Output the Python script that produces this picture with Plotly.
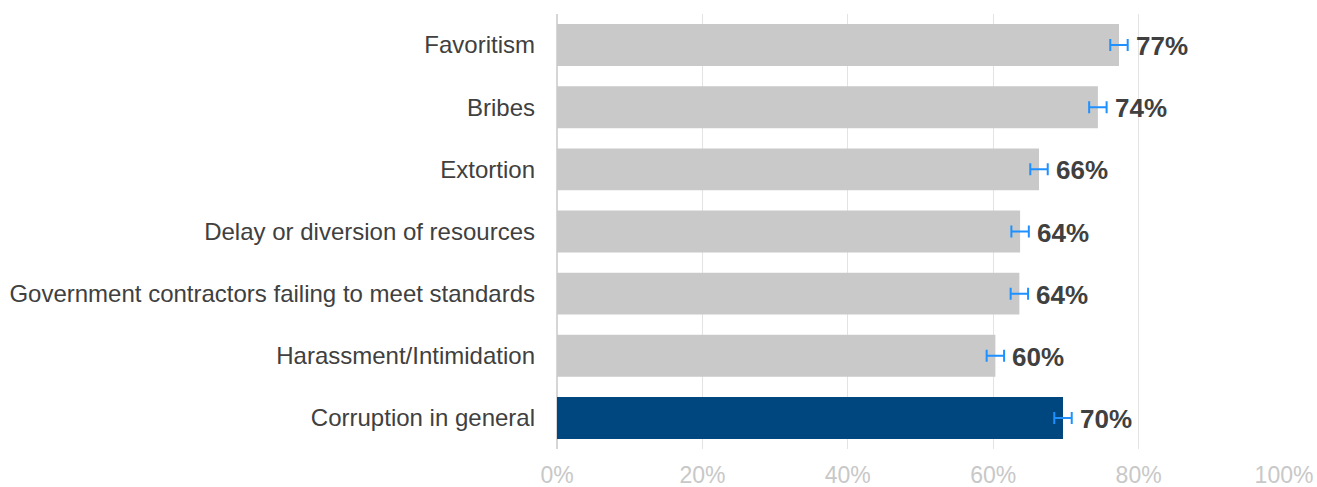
import plotly.graph_objects as go

categories = [
    "Favoritism",
    "Bribes",
    "Extortion",
    "Delay or diversion of resources",
    "Government contractors failing to meet standards",
    "Harassment/Intimidation",
    "Corruption in general",
]
values = [77.3, 74.4, 66.3, 63.7, 63.6, 60.3, 69.6]
errors = [1.2, 1.2, 1.2, 1.2, 1.2, 1.2, 1.2]
labels = ["77%", "74%", "66%", "64%", "64%", "60%", "70%"]
tick_vals = [0, 20, 40, 60, 80, 100]
tick_text = ["0%", "20%", "40%", "60%", "80%", "100%"]

bar_colors = ["#c9c9c9"] * 6 + ["#00467f"]
FONT = "Liberation Sans, Arial, sans-serif"

fig = go.Figure()
fig.add_trace(go.Bar(
    y=categories, x=values, orientation="h",
    marker=dict(color=bar_colors, line=dict(width=0)),
    width=0.675,
    error_x=dict(type="data", array=errors, visible=True,
                 color="#1e90ff", thickness=2, width=6),
    hoverinfo="skip", showlegend=False,
))

for cat, v, e, lab in zip(categories, values, errors, labels):
    fig.add_annotation(
        x=v + e, y=cat, text=f"<b>{lab}</b>", showarrow=False,
        xanchor="left", yanchor="middle", xshift=6, yshift=-1,
        font=dict(family=FONT, size=26, color="#404040"),
    )

fig.update_layout(
    width=1317, height=487,
    margin=dict(l=557, r=33, t=14, b=38, autoexpand=False),
    paper_bgcolor="white", plot_bgcolor="white",
    font=dict(family=FONT),
    bargap=0.325,
    xaxis=dict(
        range=[0, 100], tickvals=tick_vals, ticktext=tick_text,
        showgrid=True, gridcolor="#e3e3e3", gridwidth=1,
        zeroline=True, zerolinecolor="#d6d6d6", zerolinewidth=2,
        tickfont=dict(size=23, color="#c8c8c8", family=FONT),
        ticklabelstandoff=10, fixedrange=True, automargin=False,
    ),
    yaxis=dict(
        autorange="reversed", showgrid=False, zeroline=False,
        tickfont=dict(size=24, color="#404040", family=FONT),
        ticklabelstandoff=21, automargin=False, fixedrange=True,
    ),
)

fig.write_html(
    "out.html",
    config={"displayModeBar": False},
    post_script="document.body.style.margin='0';document.body.style.overflow='hidden';",
)
